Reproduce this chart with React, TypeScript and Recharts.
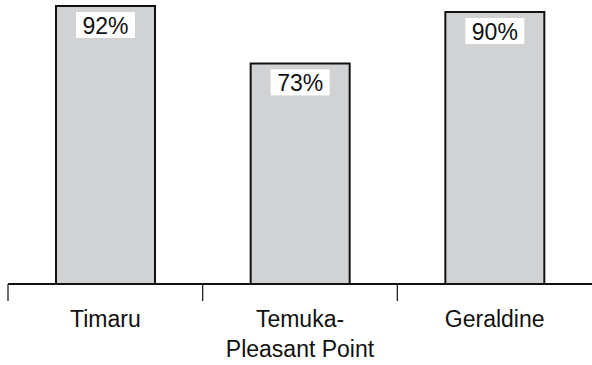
import React from "react";
import { BarChart, Bar, XAxis, YAxis, LabelList } from "recharts";

const categories = ["Timaru", "Temuka-\nPleasant Point", "Geraldine"];
const percentages = [92, 73, 90];

const data = categories.map((name, i) => ({ name, value: percentages[i] }));

const FONT = "'Liberation Sans', Arial, Helvetica, sans-serif";

const ValueLabel = (props: any) => {
  const { x, y, width, value } = props;
  const cx = Number(x) + Number(width) / 2;
  const top = Number(y) + 6;
  return (
    <g>
      <rect x={cx - 29.5} y={top} width={59} height={26} fill="#ffffff" />
      <text
        x={cx}
        y={top + 21.5}
        textAnchor="middle"
        fontFamily={FONT}
        fontSize={23}
        fill="#111"
      >
        {`${value}%`}
      </text>
    </g>
  );
};

const CategoryTick = (props: any) => {
  const { x, y, payload } = props;
  const half = payload && payload.offset ? payload.offset : 97.3;
  const lines = String(payload.value).split("\n");
  return (
    <g>
      <line x1={x - half} x2={x - half} y1={y} y2={y + 17} stroke="#222" strokeWidth={1.3} />
      <text textAnchor="middle" fontFamily={FONT} fontSize={23} fill="#111">
        {lines.map((l, i) => (
          <tspan key={i} x={x} y={y + 43 + i * 29.5}>
            {l}
          </tspan>
        ))}
      </text>
    </g>
  );
};

export default function App() {
  return (
    <div style={{ position: "absolute", left: 0, top: 0, background: "#fff" }}>
      <BarChart
        width={592}
        height={365}
        data={data}
        margin={{ top: 6, right: 0, bottom: 0, left: 8 }}
      >
        <XAxis
          dataKey="name"
          height={81}
          axisLine={{ stroke: "#111", strokeWidth: 2 }}
          tickLine={false}
          tickSize={0}
          tickMargin={0}
          tick={<CategoryTick />}
          interval={0}
        />
        <YAxis hide domain={[0, 92]} />
        <Bar
          dataKey="value"
          fill="#d1d2d4"
          stroke="#111"
          strokeWidth={2}
          barSize={99}
          isAnimationActive={false}
        >
          <LabelList dataKey="value" content={<ValueLabel />} />
        </Bar>
      </BarChart>
    </div>
  );
}
